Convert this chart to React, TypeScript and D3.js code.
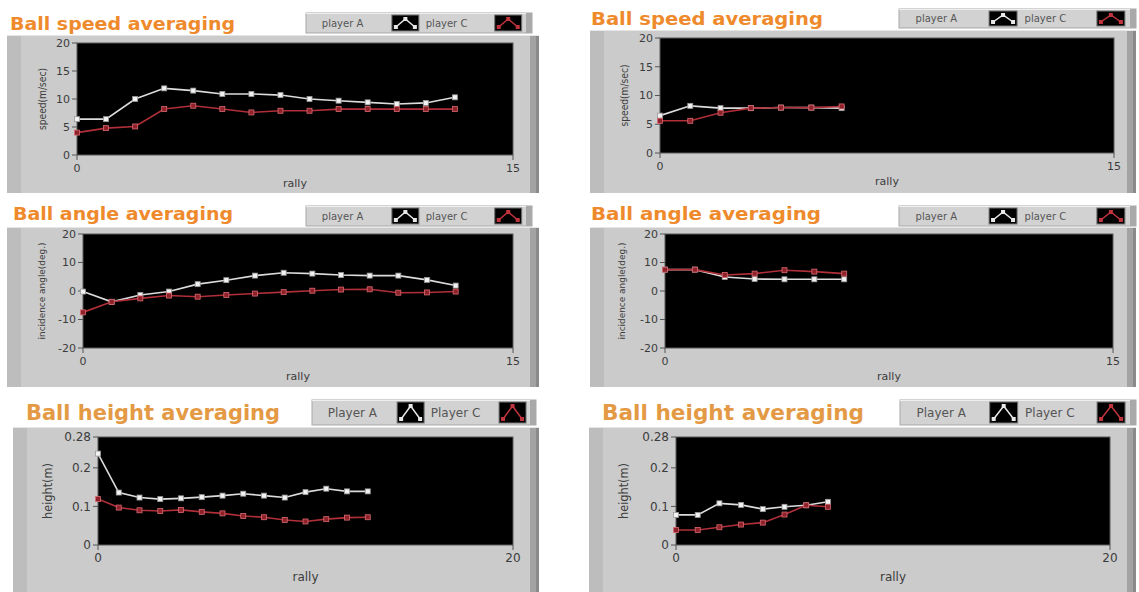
import React from 'react';
import * as d3 from 'd3';

// values, rally index = array position
const speedA1 = [6.4, 6.4, 10.0, 11.9, 11.5, 10.9, 10.9, 10.7, 10.0, 9.7, 9.4, 9.1, 9.3, 10.3];
const speedC1 = [4.0, 4.8, 5.1, 8.2, 8.8, 8.2, 7.6, 7.9, 7.9, 8.2, 8.2, 8.2, 8.2, 8.2];
const speedA2 = [6.5, 8.2, 7.8, 7.8, 7.9, 7.9, 7.8];
const speedC2 = [5.6, 5.6, 7.0, 7.8, 7.9, 7.9, 8.1];

const angleA1 = [-0.2, -3.8, -1.4, -0.2, 2.4, 3.8, 5.4, 6.4, 6.1, 5.6, 5.4, 5.4, 3.9, 1.9];
const angleC1 = [-7.5, -3.8, -2.6, -1.6, -2.0, -1.4, -0.9, -0.4, 0.1, 0.5, 0.6, -0.6, -0.5, -0.2];
const angleA2 = [7.5, 7.5, 4.9, 4.2, 4.1, 4.1, 4.1];
const angleC2 = [7.5, 7.5, 5.6, 6.1, 7.3, 6.8, 6.1];

const heightA1 = [0.237, 0.136, 0.123, 0.119, 0.121, 0.124, 0.128, 0.133, 0.128, 0.123, 0.137, 0.146, 0.139, 0.139];
const heightC1 = [0.119, 0.097, 0.09, 0.088, 0.091, 0.086, 0.082, 0.075, 0.072, 0.065, 0.061, 0.067, 0.071, 0.072];
const heightA2 = [0.078, 0.078, 0.108, 0.104, 0.093, 0.099, 0.103, 0.112];
const heightC2 = [0.039, 0.039, 0.046, 0.053, 0.058, 0.079, 0.103, 0.099];

const speedTicks = [0, 5, 10, 15, 20];
const angleTicks = [-20, -10, 0, 10, 20];
const heightTicks = [0, 0.1, 0.2, 0.28];

const ORANGE = '#ef8a2c';
const TAN = '#e49a45';
const WHITE_LINE = '#dcdcdc';
const RED_LINE = '#b02f38';

const panels = [
  {
    title: 'Ball speed averaging', tx: 10, ty: 30, tsize: 18, tlen: 225, tcolor: ORANGE,
    box: [7, 35, 539, 193], plot: [77, 43, 513, 155],
    legend: [306, 13, 226, 20], lsize: 10, names: ['player A', 'player C'],
    ylabel: 'speed(m/sec)', ylx: 42, ylsize: 10, ylen: 62,
    yDomain: [0, 20], yTicks: speedTicks, xMax: 15, a: speedA1, c: speedC1, fs: 11,
  },
  {
    title: 'Ball speed averaging', tx: 591, ty: 25, tsize: 18, tlen: 232, tcolor: ORANGE,
    box: [590, 30, 1136, 193], plot: [660, 38, 1114, 153],
    legend: [899, 9, 237, 19], lsize: 10, names: ['player A', 'player C'],
    ylabel: 'speed(m/sec)', ylx: 624, ylsize: 10, ylen: 62,
    yDomain: [0, 20], yTicks: speedTicks, xMax: 15, a: speedA2, c: speedC2, fs: 11,
  },
  {
    title: 'Ball angle averaging', tx: 13, ty: 220, tsize: 18, tlen: 220, tcolor: ORANGE,
    box: [7, 227, 539, 387], plot: [83, 234, 513, 348],
    legend: [306, 206, 226, 20], lsize: 10, names: ['player A', 'player C'],
    ylabel: 'incidence angle(deg.)', ylx: 42, ylsize: 9, ylen: 97,
    yDomain: [-20, 20], yTicks: angleTicks, xMax: 15, a: angleA1, c: angleC1, fs: 11,
  },
  {
    title: 'Ball angle averaging', tx: 591, ty: 220, tsize: 18, tlen: 230, tcolor: ORANGE,
    box: [590, 227, 1136, 387], plot: [665, 234, 1113, 348],
    legend: [899, 206, 237, 20], lsize: 10, names: ['player A', 'player C'],
    ylabel: 'incidence angle(deg.)', ylx: 622, ylsize: 9, ylen: 97,
    yDomain: [-20, 20], yTicks: angleTicks, xMax: 15, a: angleA2, c: angleC2, fs: 11,
  },
  {
    title: 'Ball height averaging', tx: 26, ty: 420, tsize: 21, tlen: 254, tcolor: TAN,
    box: [13, 427, 539, 592], plot: [98, 437, 513, 545],
    legend: [312, 400, 224, 25], lsize: 12, names: ['Player A', 'Player C'],
    ylabel: 'height(m)', ylx: 48, ylsize: 12, ylen: 56,
    yDomain: [0, 0.28], yTicks: heightTicks, xMax: 20, a: heightA1, c: heightC1, fs: 12,
  },
  {
    title: 'Ball height averaging', tx: 602, ty: 420, tsize: 21, tlen: 262, tcolor: TAN,
    box: [589, 427, 1136, 592], plot: [676, 437, 1110, 545],
    legend: [900, 400, 236, 25], lsize: 12, names: ['Player A', 'Player C'],
    ylabel: 'height(m)', ylx: 624, ylsize: 12, ylen: 56,
    yDomain: [0, 0.28], yTicks: heightTicks, xMax: 20, a: heightA2, c: heightC2, fs: 12,
  },
];

const FONT = 'DejaVu Sans, Verdana, sans-serif';

function Swatch({ x, y, w, h, color }: any) {
  // little line icon like the LabVIEW plot legend
  const pts: [number, number][] = [
    [x + 4, y + h - 4],
    [x + w / 2, y + 4],
    [x + w - 4, y + h - 4],
  ];
  return (
    <g>
      <rect x={x} y={y} width={w} height={h} fill="#000" stroke="#777" strokeWidth={1} />
      <polyline points={pts.map((p) => p.join(',')).join(' ')} fill="none" stroke={color} strokeWidth={1.5} />
      {pts.map((p, i) => (
        <rect key={i} x={p[0] - 2} y={p[1] - 2} width={4} height={4} fill={color} />
      ))}
    </g>
  );
}

function Panel({ p }: any) {
  const [bx0, by0, bx1, by1] = p.box;
  const [px0, py0, px1, py1] = p.plot;
  const x = d3.scaleLinear().domain([0, p.xMax]).range([px0, px1]);
  const y = d3.scaleLinear().domain(p.yDomain).range([py1, py0]);
  const line = d3
    .line<number>()
    .x((_, i) => x(i))
    .y((d) => y(d));
  const fmt = (v: number) => (p.xMax === 20 ? (v === 0 ? '0' : String(v)) : String(v));
  const [lx, ly, lw, lh] = p.legend;
  const sw = Math.round(lw * 0.12);
  const sh = lh - 4;

  const series = [
    { data: p.a, stroke: WHITE_LINE, fill: '#f2f2f2', edge: '#9a9a9a' },
    { data: p.c, stroke: RED_LINE, fill: '#8e2129', edge: '#d86a72' },
  ];

  return (
    <g>
      {/* gray frame */}
      <rect x={bx0} y={by0} width={bx1 - bx0} height={by1 - by0} fill="#cbcbcb" />
      <rect x={bx0} y={by0} width={14} height={by1 - by0} fill="#bdbdbd" />
      <rect x={bx1 - 9} y={by0} width={9} height={by1 - by0} fill="#a3a3a3" />
      <rect x={bx1 - 3} y={by0} width={3} height={by1 - by0} fill="#8a8a8a" />
      <line x1={bx0} x2={bx1} y1={by0 + 0.5} y2={by0 + 0.5} stroke="#e6e6e6" />

      {/* plot area */}
      <rect x={px0} y={py0} width={px1 - px0} height={py1 - py0} fill="#000" stroke="#5a5a5a" strokeWidth={1} />

      {/* y axis ticks */}
      {p.yTicks.map((t: number) => (
        <g key={t}>
          <line x1={px0 - 5} x2={px0} y1={y(t)} y2={y(t)} stroke="#555" />
          <text x={px0 - 7} y={y(t)} dy="0.35em" textAnchor="end" fontSize={p.fs} fill="#3c3c3c" fontFamily={FONT}>
            {t}
          </text>
        </g>
      ))}

      {/* x axis ticks, only the ends */}
      {x.domain().map((t: number) => (
        <g key={t}>
          <line x1={x(t)} x2={x(t)} y1={py1} y2={py1 + 5} stroke="#555" />
          <text x={x(t)} y={py1 + 17} textAnchor="middle" fontSize={p.fs} fill="#3c3c3c" fontFamily={FONT}>
            {fmt(t)}
          </text>
        </g>
      ))}

      <text x={(px0 + px1) / 2} y={py1 + (p.xMax === 20 ? 36 : 32)} textAnchor="middle" fontSize={p.fs} fill="#3c3c3c" fontFamily={FONT}>
        rally
      </text>
      <text
        transform={`translate(${p.ylx},${(py0 + py1) / 2}) rotate(-90)`}
        textAnchor="middle"
        dy="0.35em"
        fontSize={p.ylsize}
        fill="#3c3c3c"
        fontFamily={FONT}
        textLength={p.ylen}
        lengthAdjust="spacingAndGlyphs"
      >
        {p.ylabel}
      </text>

      {/* series */}
      {series.map((s, k) => (
        <g key={k}>
          <path d={line(s.data) || ''} fill="none" stroke={s.stroke} strokeWidth={1.6} />
          {s.data.map((d: number, i: number) => (
            <rect key={i} x={x(i) - 2.5} y={y(d) - 2.5} width={5} height={5} fill={s.fill} stroke={s.edge} strokeWidth={0.8} />
          ))}
        </g>
      ))}

      {/* title */}
      <text
        x={p.tx}
        y={p.ty}
        fontSize={p.tsize}
        fontWeight="bold"
        fill={p.tcolor}
        fontFamily={FONT}
        textLength={p.tlen}
        lengthAdjust="spacingAndGlyphs"
      >
        {p.title}
      </text>

      {/* legend bar */}
      <rect x={lx} y={ly} width={lw} height={lh} fill="#d2d2d2" stroke="#a8a8a8" strokeWidth={1} />
      <line x1={lx} x2={lx + lw} y1={ly + 0.5} y2={ly + 0.5} stroke="#efefef" />
      <rect x={lx + lw - 6} y={ly} width={6} height={lh} fill="#a9a9a9" />
      <text x={lx + lw * 0.07} y={ly + lh / 2} dy="0.35em" fontSize={p.lsize} fill="#555" fontFamily={FONT}>
        {p.names[0]}
      </text>
      <Swatch x={lx + lw * 0.38} y={ly + 2} w={sw} h={sh} color="#e8e8e8" />
      <text x={lx + lw * 0.53} y={ly + lh / 2} dy="0.35em" fontSize={p.lsize} fill="#555" fontFamily={FONT}>
        {p.names[1]}
      </text>
      <Swatch x={lx + lw * 0.835} y={ly + 2} w={sw} h={sh} color="#c0343e" />
    </g>
  );
}

export default function App() {
  return (
    <svg width={1139} height={592} style={{ position: 'absolute', left: 0, top: 0, background: '#fff' }}>
      <rect width={1139} height={592} fill="#fff" />
      {panels.map((p, i) => (
        <Panel key={i} p={p} />
      ))}
    </svg>
  );
}
